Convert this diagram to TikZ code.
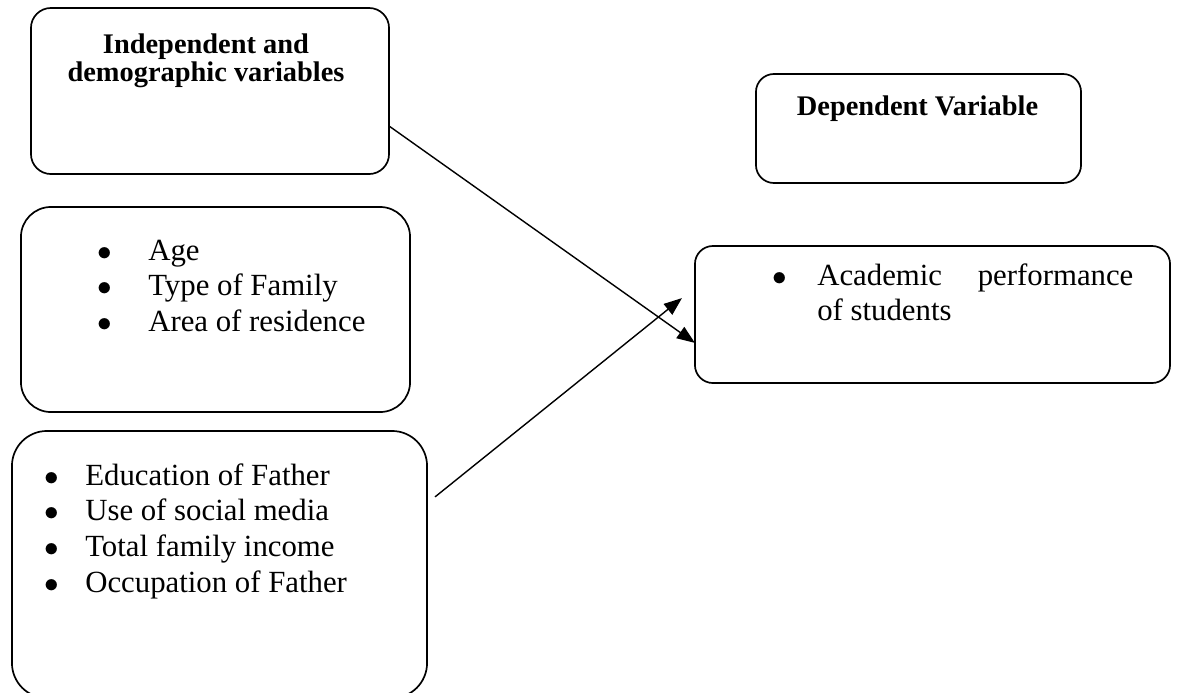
\documentclass[tikz,border=0pt]{standalone}
\usepackage{fontspec}
\setmainfont{Liberation Serif}
\usetikzlibrary{arrows.meta}
\newcommand{\bul}[1]{\makebox[#1][l]{$\bullet$}}

\begin{document}
\begin{tikzpicture}[x=0.025cm, y=-0.025cm,
  varbox/.style={draw, line width=1.2pt, inner sep=0pt, outer sep=0pt},
  head/.style={font=\fontsize{20.2}{19.9}\selectfont\bfseries, align=center, inner sep=0pt},
  item/.style={font=\fontsize{21.9}{25}\selectfont, inner sep=0pt, anchor=base west},
  >={Triangle[length=4.5mm, width=3.4mm]}]
\useasboundingbox (0,0) rectangle (1177,692);
% frames
\node[varbox, rounded corners=0.5cm, minimum width=8.95cm, minimum height=4.15cm] (indep) at (210,91) {};
\node[varbox, rounded corners=0.45cm, minimum width=8.125cm, minimum height=2.725cm] (dep) at (918.5,128.5) {};
\node[varbox, rounded corners=0.75cm, minimum width=9.725cm, minimum height=5.125cm] (demo) at (215.5,309.5) {};
\node[varbox, rounded corners=0.875cm, minimum width=10.375cm, minimum height=6.675cm] (socio) at (219.5,564.5) {};
\node[varbox, rounded corners=0.45cm, minimum width=11.875cm, minimum height=3.425cm] (acad) at (932.5,314.5) {};
% headings
\node[head, anchor=north] (indephead) at (206,34) {Independent and\\demographic variables};
\node[head, anchor=base] (dephead) at (917.5,115) {Dependent Variable};
% bullet lists
\foreach \txt [count=\i] in {Age, Type of Family, Area of residence}
  \node[item] (demo\i) at (97,{260+35.5*(\i-1)}) {\bul{1.275cm}\txt};
\foreach \txt [count=\i] in {Education of Father, Use of social media, Total family income, Occupation of Father}
  \node[item] (socio\i) at (44,{485+35.8*(\i-1)}) {\bul{1.025cm}\txt};
\node[item] (acad1) at (772,285) {\bul{1.125cm}\makebox[7.9cm][s]{Academic\hfill performance}};
\node[item] (acad2) at (817,320) {of students};
% links
\draw[->, line width=1pt] ([yshift=-0.875cm]indep.east) -- ([yshift=-0.71cm]acad.west);
\draw[->, line width=1pt] ([xshift=0.2cm, yshift=1.69cm]socio.east) -- ([xshift=-0.325cm, yshift=0.41cm]acad.west);
\end{tikzpicture}
\end{document}
